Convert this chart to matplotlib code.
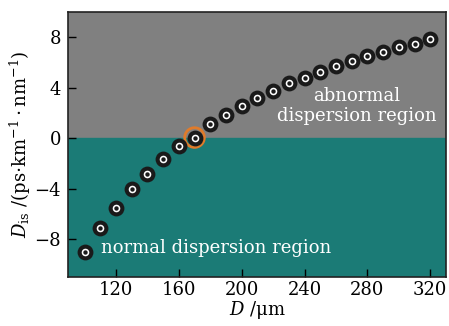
import matplotlib.pyplot as plt
import numpy as np

plt.rcParams['font.family'] = 'DejaVu Serif'
plt.rcParams['mathtext.fontset'] = 'dejavuserif'

# core diameter (um) and dispersion values
d_um = [100, 110, 120, 130, 140, 150, 160, 170, 180, 190, 200, 210,
        220, 230, 240, 250, 260, 270, 280, 290, 300, 310, 320]
d_is = [-9.05, -7.1, -5.5, -4.05, -2.8, -1.67, -0.65, 0.05, 1.1, 1.8, 2.55, 3.15,
        3.75, 4.35, 4.8, 5.25, 5.7, 6.1, 6.5, 6.85, 7.25, 7.5, 7.85]
zero_point = 170
xticks = [120, 160, 200, 240, 280, 320]
yticks = [-8, -4, 0, 4, 8]

fig = plt.figure(figsize=(4.49, 3.26), dpi=100)
ax = fig.add_axes([68/449, 49/326, 378/449, 265/326])

xmin, xmax = 89.5, 330
ymin, ymax = -11, 10
ax.axhspan(0, ymax, color='#808080', zorder=0)
ax.axhspan(ymin, 0, color='#1b7b76', zorder=0)

ax.scatter(d_um, d_is, s=130, color='#1a1a1a', zorder=3, linewidths=0)
ax.scatter(d_um, d_is, s=30, color='white', zorder=4, linewidths=0)
ax.scatter(d_um, d_is, s=10, color='#1a1a1a', zorder=5, linewidths=0)
i0 = d_um.index(zero_point)
ax.scatter([d_um[i0]], [d_is[i0]], s=200, facecolor='none',
           edgecolor='#e07b2a', linewidths=2, zorder=2)

ax.text(273, 2.55, 'abnormal\ndispersion region', color='white', fontsize=13,
        ha='center', va='center', linespacing=1.2)
ax.text(110.5, -8.7, 'normal dispersion region', color='white', fontsize=13,
        ha='left', va='center')

ax.set_xlim(xmin, xmax)
ax.set_ylim(ymin, ymax)
ax.set_xticks(xticks)
ax.set_yticks(yticks)
ax.set_yticklabels(['\u22128', '\u22124', '0', '4', '8'])
ax.tick_params(direction='in', length=6, width=1, labelsize=13)
ax.tick_params(axis='x', pad=3)
ax.tick_params(axis='y', pad=5)
for sp in ax.spines.values():
    sp.set_linewidth(1.2)
    sp.set_color('#222222')

ax.set_xlabel(r'$D$ /$\mathrm{\mu}$m', fontsize=13, labelpad=0)
ax.set_ylabel(r'$D_{\rm is}$ /(ps$\cdot$km$^{-1}\cdot$nm$^{-1}$)', fontsize=13, labelpad=1)

fig.savefig('out.png', dpi=100)
